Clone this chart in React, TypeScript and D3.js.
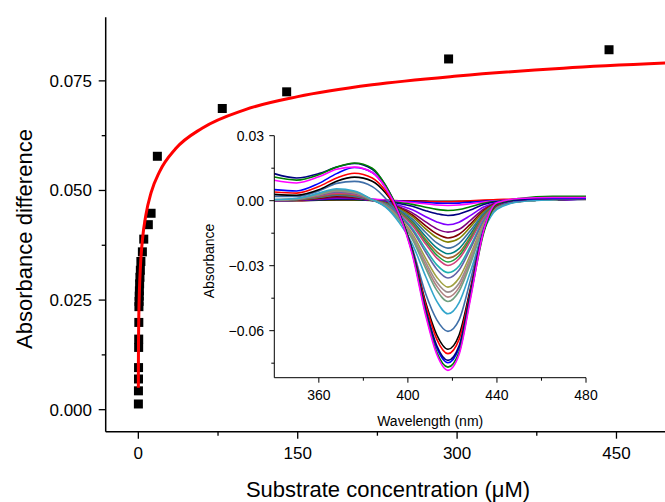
import React from "react";
import * as d3 from "d3";

// main chart: titration points and fitted curve
const concentration = [0.05, 0.1, 0.15, 0.2, 0.3, 0.35, 0.45, 0.55, 0.7, 0.85, 1.0, 1.2, 1.5, 1.9, 2.4, 3.8, 5.1, 9.4, 12.0, 17.9, 79, 139.6, 292, 443];
const absDiff = [0.0013, 0.0043, 0.007, 0.0096, 0.0142, 0.0161, 0.0199, 0.0235, 0.0247, 0.0259, 0.0271, 0.0287, 0.0302, 0.0318, 0.0338, 0.036, 0.0389, 0.0422, 0.0448, 0.0578, 0.0687, 0.0725, 0.08, 0.0821];

const fitConc = [0.01, 0.05, 0.2, 0.5, 1, 2, 4, 7, 12, 20, 35, 60, 100, 150, 220, 300, 400, 500];
const fitAbs = [0.005, 0.0102, 0.0165, 0.0221, 0.0271, 0.0328, 0.0391, 0.0443, 0.0495, 0.0543, 0.0595, 0.0642, 0.0684, 0.0714, 0.0741, 0.0761, 0.0779, 0.0791];

const mainXTicks = [0, 150, 300, 450];
const mainXMinor = [75, 225, 375];
const mainYTicks = [0, 0.025, 0.05, 0.075];
const mainYMinor = [0.0125, 0.0375, 0.0625];

// inset: difference spectra, values in mAbs
const wavelengths = [340, 350, 360, 368, 376, 384, 390, 396, 402, 408, 413, 418, 423, 428, 434, 440, 450, 465, 480];

const spectra = [
  { color: "#000000", v: [0.2, 0, 0.2, 0.3, 0.3, 0.2, 0.1, 0, -0.1, -0.2, -0.3, -0.3, -0.3, -0.2, 0, 0.2, 0.4, 0.5, 0.6] },
  { color: "#ff0000", v: [0, 0.1, 0.3, 0.6, 0.5, 0.3, 0.1, 0, -0.2, -0.4, -0.5, -0.5, -0.3, 0, 0.3, 0.5, 0.8, 1, 1] },
  { color: "#0000ff", v: [0.2, 0.4, 0.8, 1.2, 1.1, 0.6, 0.2, -0.2, -0.5, -0.8, -1.1, -1.2, -1.1, -0.7, -0.3, 0, 0.3, 0.5, 0.7] },
  { color: "#ff00ff", v: [0.3, 0.5, 1, 1.5, 1.4, 0.8, 0.2, -0.3, -0.8, -1.4, -2, -2.2, -2, -1.4, -0.6, -0.1, 0.3, 0.5, 0.8] },
  { color: "#008000", v: [0.1, 0.2, 0.4, 0.6, 0.5, 0.1, -0.3, -0.9, -1.7, -3, -4, -4.5, -4.1, -2.8, -1.2, -0.3, 0.2, 0.5, 0.9] },
  { color: "#000080", v: [0.1, 0.2, 0.5, 0.8, 0.7, 0.1, -0.4, -1.3, -2.6, -4.6, -6, -6.8, -6.1, -4.3, -1.8, -0.5, 0.1, 0.4, 0.8] },
  { color: "#8000ff", v: [0.1, 0.2, 0.7, 1.2, 1, 0.1, -0.6, -2.1, -4.2, -7.4, -9.8, -11.1, -9.9, -6.9, -2.9, -0.8, 0, 0.4, 0.8] },
  { color: "#800080", v: [0.1, 0.3, 0.9, 1.5, 1.2, 0.1, -0.8, -2.8, -5.6, -9.8, -13, -14.5, -13.2, -9.2, -3.9, -1.1, -0.1, 0.4, 0.8] },
  { color: "#800000", v: [0.2, 0.4, 1.2, 2, 1.6, 0.2, -1, -3.3, -6.6, -11.6, -15.3, -17.2, -15.5, -10.9, -4.6, -1.3, -0.2, 0.5, 0.9] },
  { color: "#808000", v: [0.2, 0.5, 1.5, 2.5, 2, 0.2, -1.1, -3.7, -7.4, -13, -17, -19.1, -17.4, -12.2, -5.2, -1.5, -0.2, 0.5, 0.9] },
  { color: "#3f6fa0", v: [0.2, 0.5, 1.6, 2.5, 2, 0.2, -1.3, -4.2, -8.4, -14.7, -19.5, -21.9, -19.7, -13.9, -5.9, -1.7, -0.2, 0.5, 0.9] },
  { color: "#008080", v: [0.3, 0.6, 1.9, 3, 2.5, 0.2, -1.4, -4.7, -9.4, -16.5, -21.8, -24.5, -22.1, -15.5, -6.6, -1.9, -0.2, 0.5, 0.9] },
  { color: "#a0622d", v: [0.2, 0.6, 1.9, 3, 2.5, 0.3, -1.5, -5.1, -10.2, -17.9, -23.6, -26.5, -24, -16.8, -7.1, -2, -0.3, 0.5, 1] },
  { color: "#20a040", v: [0.3, 0.7, 2.2, 3.5, 2.9, 0.3, -1.6, -5.4, -10.8, -18.9, -25.1, -28.3, -25.4, -17.8, -7.6, -2.2, -0.3, 0.5, 1] },
  { color: "#d0407a", v: [0.3, 0.7, 2.2, 3.5, 2.9, 0.3, -1.7, -5.7, -11.4, -20, -26.5, -29.9, -26.8, -18.8, -8, -2.3, -0.3, 0.5, 1] },
  { color: "#20b0b0", v: [0.4, 0.9, 2.8, 4.5, 3.7, 0.3, -1.9, -6.4, -12.8, -22.4, -29.6, -33.2, -30.1, -21.1, -9, -2.6, -0.3, 0.5, 1] },
  { color: "#6464a8", v: [0.3, 0.7, 2.5, 4, 3.3, 0.3, -2, -6.8, -13.6, -23.8, -31.6, -35.7, -32, -22.4, -9.5, -2.7, -0.3, 0.5, 1] },
  { color: "#a0a040", v: [0.3, 0.8, 2.8, 4.5, 3.7, 0.4, -2.3, -7.6, -15.2, -26.6, -35.3, -39.9, -35.7, -25.1, -10.6, -3, -0.4, 0.5, 1] },
  { color: "#9a8c8c", v: [0.4, 0.9, 2.8, 4.5, 3.7, 0.4, -2.4, -8.1, -16.2, -28.4, -37.6, -42.2, -38.1, -26.7, -11.3, -3.2, -0.4, 0.5, 1] },
  { color: "#b08080", v: [0.4, 0.9, 3.1, 5, 4.1, 0.4, -2.6, -8.5, -17, -29.8, -39.5, -44.5, -40, -28, -11.9, -3.4, -0.4, 0.5, 1] },
  { color: "#70a080", v: [0.5, 1, 3.1, 5, 4.1, 0.4, -2.7, -8.9, -17.8, -31.2, -41.4, -46.5, -41.8, -29.4, -12.5, -3.6, -0.4, 0.5, 1] },
  { color: "#33a6cc", v: [0.5, 1, 3.5, 5.5, 4.5, 0.5, -3, -10, -20, -35, -46.5, -52.2, -47, -33, -14, -4, -0.5, 0.5, 1] },
  { color: "#3f6fa8", v: [2, 2, 4.5, 8, 8.9, 6.5, 1, -7, -22, -43, -55, -60.3, -55, -37, -13, -2.5, 0, 1, 1] },
  { color: "#000000", v: [2.9, 2.5, 5, 9, 10.9, 9, 3.5, -6, -23, -47, -62, -68.6, -62, -41, -14, -2, 0.5, 1, 1] },
  { color: "#ff0000", v: [4, 3.5, 6.5, 10.5, 12.7, 10.5, 4.5, -6, -23, -48, -64, -70.6, -64, -42, -14, -2, 0.5, 1, 1] },
  { color: "#0000ff", v: [5.1, 4.5, 8, 12.5, 15.3, 13, 6, -5.5, -24, -51, -68, -74.8, -68, -44, -14, -1.5, 0.5, 1, 1] },
  { color: "#000080", v: [12.5, 10.5, 12.5, 15.5, 17.2, 14.5, 7, -5.5, -23, -50, -67, -73.7, -67, -43, -14, -1.5, 0.5, 1.5, 1.5] },
  { color: "#008000", v: [10.9, 9.5, 12, 15.5, 17.4, 15, 7, -5.5, -24, -52, -70, -76.8, -70, -45, -15, -1.5, 1, 2, 2] },
  { color: "#ff00ff", v: [9.4, 8.2, 11, 14.5, 15.5, 13, 6, -6, -25, -53, -71, -78.3, -71, -46, -14, -1, 1, 1.5, 1.5] },
];

const insetXTicks = [360, 400, 440, 480];
const insetXMinor = [380, 420, 460];
const insetYTicks = [0.03, 0, -0.03, -0.06];
const insetYMinor = [0.015, -0.015, -0.045, -0.075];

const FONT = "'Liberation Sans', Arial, sans-serif";

function MainChart() {
  const x = d3.scaleLinear().domain([-31, 500]).range([105.4, 669.6]);
  const y = d3.scaleLinear().domain([-0.005, 0.0895]).range([431.6, 17.3]);
  const left = 105.7;
  const bottom = 431.7;

  const fitLine = d3
    .line<number>()
    .x((_, i) => x(fitConc[i]))
    .y(d => y(d))
    .curve(d3.curveMonotoneX);

  const fmt = d3.format(".3f");

  return (
    <g>
      <line x1={left} x2={left} y1={17.3} y2={bottom} stroke="#000" strokeWidth={1.5} />
      <line x1={left} x2={665} y1={bottom} y2={bottom} stroke="#000" strokeWidth={1.5} />

      {mainYTicks.map(t => (
        <g key={t}>
          <line x1={left - 7} x2={left} y1={y(t)} y2={y(t)} stroke="#000" strokeWidth={1.3} />
          <text x={92} y={y(t)} dy="0.35em" textAnchor="end" fontSize={17}>{fmt(t)}</text>
        </g>
      ))}
      {mainYMinor.map(t => (
        <line key={t} x1={left - 4} x2={left} y1={y(t)} y2={y(t)} stroke="#000" strokeWidth={1.3} />
      ))}
      {mainXTicks.map(t => (
        <g key={t}>
          <line x1={x(t)} x2={x(t)} y1={bottom} y2={bottom + 7} stroke="#000" strokeWidth={1.3} />
          <text x={x(t)} y={459} textAnchor="middle" fontSize={17}>{t}</text>
        </g>
      ))}
      {mainXMinor.map(t => (
        <line key={t} x1={x(t)} x2={x(t)} y1={bottom} y2={bottom + 4} stroke="#000" strokeWidth={1.3} />
      ))}

      <text transform="translate(32,239) rotate(-90)" textAnchor="middle" fontSize={22}>Absorbance difference</text>
      <text x={388} y={497} textAnchor="middle" fontSize={22}>Substrate concentration (μM)</text>

      {concentration.map((c, i) => (
        <rect key={i} x={x(c) - 4.5} y={y(absDiff[i]) - 4.5} width={9} height={9} fill="#000" />
      ))}
      <path d={fitLine(fitAbs) || ""} fill="none" stroke="#ff0000" strokeWidth={3} />
    </g>
  );
}

function Inset() {
  const x = d3.scaleLinear().domain([340, 480]).range([274.3, 586]);
  const y = d3.scaleLinear().domain([-0.0817, 0.03]).range([377.7, 135.7]);
  const left = x(340);
  const bottom = y(-0.0817);

  const line = d3
    .line<number>()
    .x((_, i) => x(wavelengths[i]))
    .y(d => y(d / 1000))
    .curve(d3.curveMonotoneX);

  const fmt = d3.format(".2f");

  return (
    <g>
      {spectra.map((s, i) => (
        <path key={i} d={line(s.v) || ""} fill="none" stroke={s.color} strokeWidth={1.6} strokeLinejoin="round" />
      ))}

      <line x1={left} x2={left} y1={y(0.03)} y2={bottom} stroke="#000" strokeWidth={1} />
      <line x1={left} x2={x(480)} y1={bottom} y2={bottom} stroke="#000" strokeWidth={1} />

      {insetYTicks.map(t => (
        <g key={t}>
          <line x1={left - 5} x2={left} y1={y(t)} y2={y(t)} stroke="#000" />
          <text x={264} y={y(t)} dy="0.35em" textAnchor="end" fontSize={14}>{fmt(t)}</text>
        </g>
      ))}
      {insetYMinor.map(t => (
        <line key={t} x1={left - 3} x2={left} y1={y(t)} y2={y(t)} stroke="#000" />
      ))}
      {insetXTicks.map(t => (
        <g key={t}>
          <line x1={x(t)} x2={x(t)} y1={bottom} y2={bottom + 5} stroke="#000" />
          <text x={x(t)} y={400} textAnchor="middle" fontSize={14}>{t}</text>
        </g>
      ))}
      {insetXMinor.map(t => (
        <line key={t} x1={x(t)} x2={x(t)} y1={bottom} y2={bottom + 3} stroke="#000" />
      ))}

      <text transform="translate(213.5,261) rotate(-90)" textAnchor="middle" fontSize={14}>Absorbance</text>
      <text x={430.2} y={426} textAnchor="middle" fontSize={14}>Wavelength (nm)</text>
    </g>
  );
}

export default function App() {
  return (
    <svg
      width={665}
      height={502}
      style={{ position: "absolute", left: 0, top: 0, background: "#fff" }}
      fontFamily={FONT}
      fill="#000"
    >
      <rect width={665} height={502} fill="#fff" />
      <MainChart />
      <Inset />
    </svg>
  );
}
